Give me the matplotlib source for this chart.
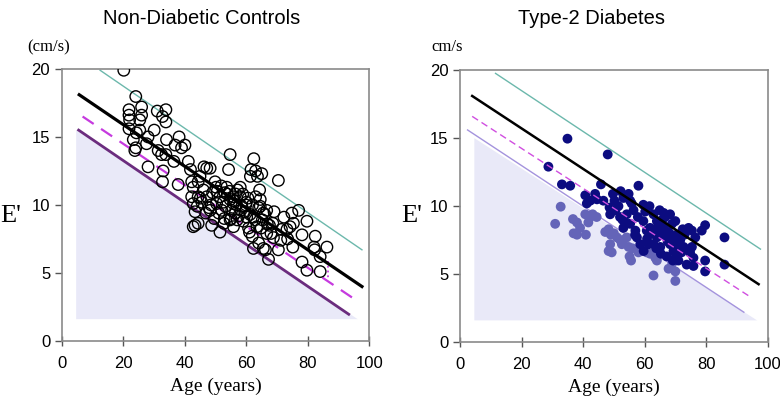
import numpy as np
import matplotlib.pyplot as plt
from matplotlib.patches import Polygon

# ---- data ----
# Non-diabetic controls (age, E')
ctrl_age = [20.1, 24.0, 21.8, 21.8, 22.0, 25.9, 25.9, 25.3, 21.8, 23.2, 24.0, 25.3, 24.2, 23.7,
            28.0, 27.5, 30.0, 31.0, 33.8, 33.8, 32.7, 34.0, 31.3, 32.4, 33.8, 28.0, 32.9, 32.7,
            36.4, 36.8, 38.1, 38.9, 40.0, 37.8, 41.1, 41.8, 42.2, 42.7, 42.2, 42.7, 43.3, 43.3,
            42.7, 44.3, 46.2, 47.1, 48.2, 44.9, 46.0, 44.3, 44.3, 47.1, 48.2, 48.7, 49.8, 50.1,
            51.4, 50.3, 52.0, 51.4, 52.7, 53.6, 53.0, 54.7, 55.8, 54.2, 54.7, 55.8, 56.4, 57.1,
            58.0, 58.0, 58.5, 59.8, 60.1, 60.7, 55.8, 54.7, 61.3, 61.5, 62.4, 63.0, 63.6, 64.3,
            65.0, 64.5, 64.5, 65.5, 66.6, 62.3, 63.4, 61.9, 62.3, 64.0, 65.5, 66.6, 67.2, 66.2,
            68.6, 69.0, 70.4, 70.4, 71.2, 71.4, 72.2, 73.2, 73.4, 74.2, 74.8, 75.3, 75.1, 77.0,
            78.1, 78.1, 79.7, 79.7, 82.4, 82.2, 84.0, 84.0, 86.2, 82.0,
            45.5, 47.8, 49.0, 50.5, 51.8, 52.5, 53.2, 53.8, 54.5, 55.2, 56.0, 56.8, 57.5, 58.8,
            59.5, 60.5, 61.2, 62.0, 63.0, 64.0, 65.2, 66.0, 67.5, 68.0, 57.0, 59.0, 60.0, 61.0,
            49.5, 51.0, 52.8, 55.0, 56.5, 58.2, 62.8, 64.8, 66.8, 68.8, 45.0, 46.8, 48.5, 44.0]
ctrl_e = [19.9, 17.97, 17.0, 16.6, 16.25, 17.2, 16.6, 16.25, 15.6, 14.8, 14.2, 15.5, 15.3, 14.0,
          15.0, 14.5, 15.5, 16.9, 17.0, 16.1, 16.5, 14.8, 14.0, 13.7, 13.7, 12.8, 12.5, 11.7,
          13.2, 14.4, 15.0, 14.2, 14.4, 11.5, 13.2, 12.6, 11.7, 11.3, 10.6, 10.1, 9.5, 8.5,
          8.4, 8.65, 12.8, 12.7, 12.7, 12.1, 11.1, 11.7, 10.6, 10.6, 9.6, 8.5, 11.7, 11.3,
          10.6, 10.1, 9.6, 8.0, 8.65, 11.3, 10.9, 10.4, 10.6, 12.6, 13.7, 10.1, 9.4, 11.1,
          11.3, 10.6, 9.9, 10.0, 9.1, 8.3, 8.4, 8.9, 12.1, 12.6, 13.4, 12.5, 12.1, 11.1,
          12.3, 10.4, 9.9, 9.4, 9.6, 9.1, 8.4, 7.7, 6.8, 7.2, 6.8, 7.9, 6.0, 6.7,
          8.65, 9.5, 11.8, 6.7, 7.4, 8.2, 9.1, 8.2, 7.5, 8.4, 9.4, 8.65, 6.9, 9.6,
          7.8, 5.8, 5.2, 8.8, 7.7, 6.7, 6.2, 5.1, 6.9, 6.9,
          10.2, 9.8, 10.9, 11.0, 11.4, 10.2, 9.9, 10.8, 11.0, 9.6, 10.3, 10.0, 9.2, 10.8,
          9.5, 10.5, 9.3, 10.0, 10.6, 9.8, 8.9, 9.3, 8.5, 7.9, 8.9, 8.8, 10.2, 8.0,
          9.0, 9.4, 9.0, 9.0, 10.8, 9.6, 8.9, 8.3, 8.6, 7.6, 10.5, 9.4, 10.0, 9.9]

# Type-2 diabetes: darker points (above limit) and lighter points (below limit)
t2_age = [34.9, 48.0, 28.7, 33.1, 35.8, 45.8, 58.0, 40.7, 43.9, 41.2, 42.3, 46.6, 49.7, 52.2,
          54.8, 48.6, 48.8, 51.5, 53.1, 55.3, 56.4, 54.2, 52.0, 53.7, 55.3, 53.1, 56.9, 59.6,
          61.6, 62.9, 64.0, 61.8, 64.9, 66.2, 66.7, 68.3, 70.0, 68.9, 66.2, 65.1, 64.0, 62.9,
          65.1, 67.2, 68.3, 69.4, 70.5, 71.6, 72.7, 71.0, 69.2, 67.2, 65.3, 74.3, 75.4, 76.5,
          75.4, 75.9, 75.9, 73.7, 78.6, 79.7, 79.7, 79.7, 86.0, 86.0, 59.6, 60.7, 57.5, 58.6,
          59.7, 61.3, 63.0, 50.5, 57.8, 63.5, 67.5, 72.0, 74.0, 70.8,
          44.5, 50.2, 52.8, 55.8, 57.0, 60.2, 62.2, 64.6, 66.0, 67.8, 69.6, 71.2, 73.0, 74.8,
          60.8, 63.8, 65.8, 68.6, 70.2, 72.4]
t2_e = [14.96, 13.8, 12.9, 11.6, 11.5, 11.6, 11.5, 10.8, 10.9, 10.2, 10.4, 10.4, 10.9, 11.1,
        10.9, 9.9, 9.4, 10.0, 10.6, 10.4, 9.7, 9.4, 9.2, 8.8, 8.7, 8.4, 7.9, 8.9,
        10.0, 9.4, 8.9, 8.4, 9.7, 9.5, 9.2, 9.4, 8.9, 8.7, 8.4, 7.9, 7.7, 7.2,
        7.0, 7.7, 7.2, 6.7, 7.9, 7.5, 7.0, 6.0, 6.0, 6.3, 6.5, 8.4, 8.2, 7.7,
        7.0, 6.2, 5.6, 5.7, 8.2, 8.6, 6.0, 5.2, 7.7, 5.7, 10.1, 8.2, 7.7, 7.2,
        6.7, 7.2, 8.2, 9.7, 9.2, 8.0, 7.4, 6.6, 6.8, 7.0,
        10.5, 10.4, 9.0, 10.2, 8.2, 9.6, 8.0, 8.6, 8.0, 8.1, 7.6, 6.9, 7.9, 6.6,
        7.6, 6.9, 9.0, 7.9, 6.3, 8.3]
t2_low_age = [32.7, 30.9, 36.7, 38.0, 39.0, 36.9, 38.0, 40.9, 40.7, 42.3, 41.7, 43.1, 47.2, 48.3,
              49.0, 51.0, 48.8, 52.1, 52.6, 53.1, 54.2, 54.8, 48.3, 49.3, 55.1, 55.6, 59.6, 60.7,
              61.8, 62.9, 64.0, 67.8, 70.0, 70.0, 44.4, 50.0, 56.0, 58.0, 63.5, 69.0]
t2_low_e = [9.96, 8.7, 9.05, 8.8, 8.4, 8.0, 7.9, 7.9, 9.4, 9.2, 8.8, 9.4, 8.1, 8.3,
            7.9, 7.7, 7.2, 7.5, 7.2, 7.5, 7.7, 7.0, 6.7, 6.6, 6.3, 6.0, 6.7, 6.6,
            6.5, 4.9, 6.0, 5.4, 5.2, 4.5, 9.2, 8.0, 6.9, 6.6, 6.2, 5.8]

# reference lines as (x0, y0, x1, y1)
ctrl_upper = [12.4, 19.9, 97.6, 6.7]
ctrl_mean = [5.6, 18.1, 97.6, 4.0]
ctrl_dash = [6.7, 16.5, 95.2, 3.07]
ctrl_lower = [5.4, 15.5, 93.3, 1.96]
ctrl_shade = [4.6, 15.5, 96.2, 1.6]

t2_upper = [11.5, 19.76, 97.7, 6.84]
t2_mean = [3.9, 18.1, 97.1, 4.26]
t2_dash = [3.9, 16.6, 93.9, 3.4]
t2_lower = [2.4, 15.6, 92.3, 2.2]
t2_shade = [4.6, 15.0, 96.6, 1.6]


def seg(ax, s, **kw):
    ax.plot([s[0], s[2]], [s[1], s[3]], **kw)


def shade(ax, s):
    poly = Polygon([(s[0], s[1]), (s[2], s[3]), (s[0], s[3])], closed=True,
                   facecolor='#e9e9f8', edgecolor='none', zorder=0)
    ax.add_patch(poly)


def style(ax):
    ax.set_xlim(0, 100)
    ax.set_ylim(0, 20)
    ax.set_xticks([0, 20, 40, 60, 80, 100])
    ax.set_yticks([0, 5, 10, 15, 20])
    for sp in ax.spines.values():
        sp.set_color('#8a8a8a')
        sp.set_linewidth(1.2)
    ax.tick_params(axis='both', colors='#555555', labelcolor='black', length=5,
                   width=1, labelsize=12)
    ax.tick_params(axis='x', direction='inout', length=7, pad=7)
    for lab in ax.get_xticklabels() + ax.get_yticklabels():
        lab.set_family('Liberation Sans')
    ax.set_xlabel('Age (years)', family='Liberation Serif', fontsize=14, labelpad=5)


fig = plt.figure(figsize=(7.8, 4.03), dpi=100)
ax1 = fig.add_axes([0.0795, 0.154, 0.394, 0.675])
ax2 = fig.add_axes([0.590, 0.151, 0.394, 0.675])

# left panel
shade(ax1, ctrl_shade)
seg(ax1, ctrl_upper, color='#6cb8ac', lw=1.0, zorder=2)
seg(ax1, ctrl_lower, color='#6b2c7e', lw=2.0, zorder=2)
seg(ax1, ctrl_dash, color='#c63adf', lw=1.6, ls=(0, (6, 4)), zorder=2)
ax1.plot([86.7, 86.7], [5.9, 4.5], color='#c63adf', lw=1.3, ls=':', zorder=2)
ax1.scatter(ctrl_age, ctrl_e, s=68, facecolors='none', edgecolors='black',
            linewidths=1.0, zorder=3)
seg(ax1, ctrl_mean, color='black', lw=2.3, zorder=4)
style(ax1)

# right panel
shade(ax2, t2_shade)
seg(ax2, t2_upper, color='#6cb8ac', lw=1.0, zorder=2)
seg(ax2, t2_lower, color='#a493dd', lw=1.0, zorder=2)
ax2.scatter(t2_low_age, t2_low_e, s=50, color='#6464b8', edgecolors='none', zorder=3)
ax2.scatter(t2_age, t2_e, s=50, color='#0c0c80', edgecolors='none', zorder=3)
seg(ax2, t2_dash, color='#d04ee0', lw=1.0, ls=(0, (5, 3)), zorder=4)
seg(ax2, t2_mean, color='black', lw=1.8, zorder=4)
style(ax2)

# titles and labels
fig.text(0.258, 0.955, 'Non-Diabetic Controls', ha='center', va='center',
         family='Liberation Sans', fontsize=14.5)
fig.text(0.758, 0.955, 'Type-2 Diabetes', ha='center', va='center',
         family='Liberation Sans', fontsize=14.5)
fig.text(0.035, 0.883, '(cm/s)', family='Liberation Serif', fontsize=12, va='center')
fig.text(0.553, 0.883, 'cm/s', family='Liberation Serif', fontsize=12, va='center')
fig.text(0.0, 0.465, "E'", family='Liberation Serif', fontsize=19, va='center')
fig.text(0.515, 0.465, "E'", family='Liberation Serif', fontsize=19, va='center')

fig.savefig('out.png', dpi=100)
